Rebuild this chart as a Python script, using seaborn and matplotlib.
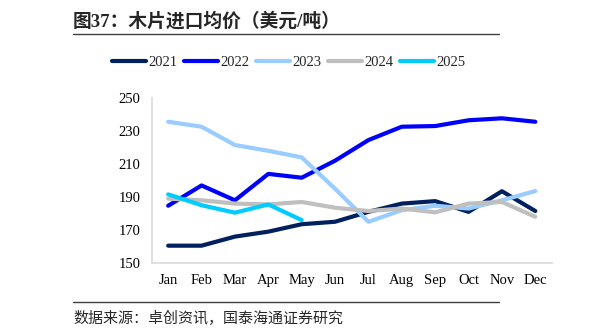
import matplotlib
matplotlib.use("Agg")
import matplotlib.pyplot as plt
import seaborn as sns
import pandas as pd

months = ["Jan", "Feb", "Mar", "Apr", "May", "Jun", "Jul", "Aug", "Sep", "Oct", "Nov", "Dec"]
v2021 = [160.5, 160.5, 166, 169, 173.5, 175, 181, 186, 187.5, 181, 193.5, 181.5]
v2022 = [184.7, 197, 188, 204, 201.7, 212, 224.5, 232.6, 233, 236.5, 237.7, 235.6]
v2023 = [235.6, 232.6, 221.5, 218, 214, 195, 175, 182, 184.7, 183, 188, 193.6]
v2024 = [189, 188, 186, 185.5, 187, 183.5, 181.5, 183, 180.7, 186, 187, 178]
v2025 = [191.6, 185, 180.5, 185.5, 176]
years = ["2021", "2022", "2023", "2024", "2025"]
colors = ["#002060", "#0000FF", "#99CCFF", "#BFBFBF", "#00CCFF"]
yticks = [150, 170, 190, 210, 230, 250]

rows = []
for y, vals in zip(years, [v2021, v2022, v2023, v2024, v2025]):
    for i, v in enumerate(vals):
        rows.append({"month": i, "value": v, "year": y})
df = pd.DataFrame(rows)

sns.set_theme(style="white")
plt.rcParams['font.family'] = ['Liberation Serif', 'Noto Sans CJK SC']

fig = plt.figure(figsize=(6.11, 3.36), dpi=100)
ax = fig.add_axes([151.5 / 611, 1 - 263 / 336, (552 - 151.5) / 611, (263 - 98) / 336])

sns.lineplot(data=df, x="month", y="value", hue="year", palette=dict(zip(years, colors)),
             linewidth=3.0, ax=ax, legend=False, solid_capstyle="round", solid_joinstyle="round")

ax.set_xlim(-0.5, 11.5)
ax.set_ylim(150, 250)
ax.set_yticks(yticks)
ax.set_yticklabels([str(t) for t in yticks], fontsize=10.5)
ax.set_xticks(range(12))
ax.set_xticklabels(months, fontsize=10.5)
ax.set_xlabel("")
ax.set_ylabel("")
ax.tick_params(axis="both", length=0, pad=8, colors="#000000")
for s in ["top", "right"]:
    ax.spines[s].set_visible(False)
for s in ["left", "bottom"]:
    ax.spines[s].set_color("#D9D9D9")
    ax.spines[s].set_linewidth(1.2)

from matplotlib.lines import Line2D
handles = [Line2D([0], [0], color=c, lw=3.0, solid_capstyle="round") for c in colors]
fig.legend(handles, years, loc="center", bbox_to_anchor=(289 / 611, 1 - 62 / 336), ncol=5,
           frameon=False, fontsize=10.5, handlelength=2.3, handletextpad=0.2, columnspacing=0.45)

fig.text(73 / 611, 1 - 21 / 336, "图37：木片进口均价（美元/吨）", fontsize=13.5, fontweight="bold",
         va="center", ha="left", family=['Liberation Serif', 'Noto Sans CJK SC'])
fig.add_artist(Line2D([73 / 611, 499 / 611], [1 - 34 / 336, 1 - 34 / 336], color="#404040", lw=1.0))
fig.add_artist(Line2D([73 / 611, 499 / 611], [1 - 302 / 336, 1 - 302 / 336], color="#404040", lw=1.0))
fig.text(73 / 611, 1 - 318 / 336, "数据来源：卓创资讯，国泰海通证券研究", fontsize=10.8,
         va="center", ha="left", family=['Noto Sans CJK SC'])

fig.savefig("out.png", dpi=100)
